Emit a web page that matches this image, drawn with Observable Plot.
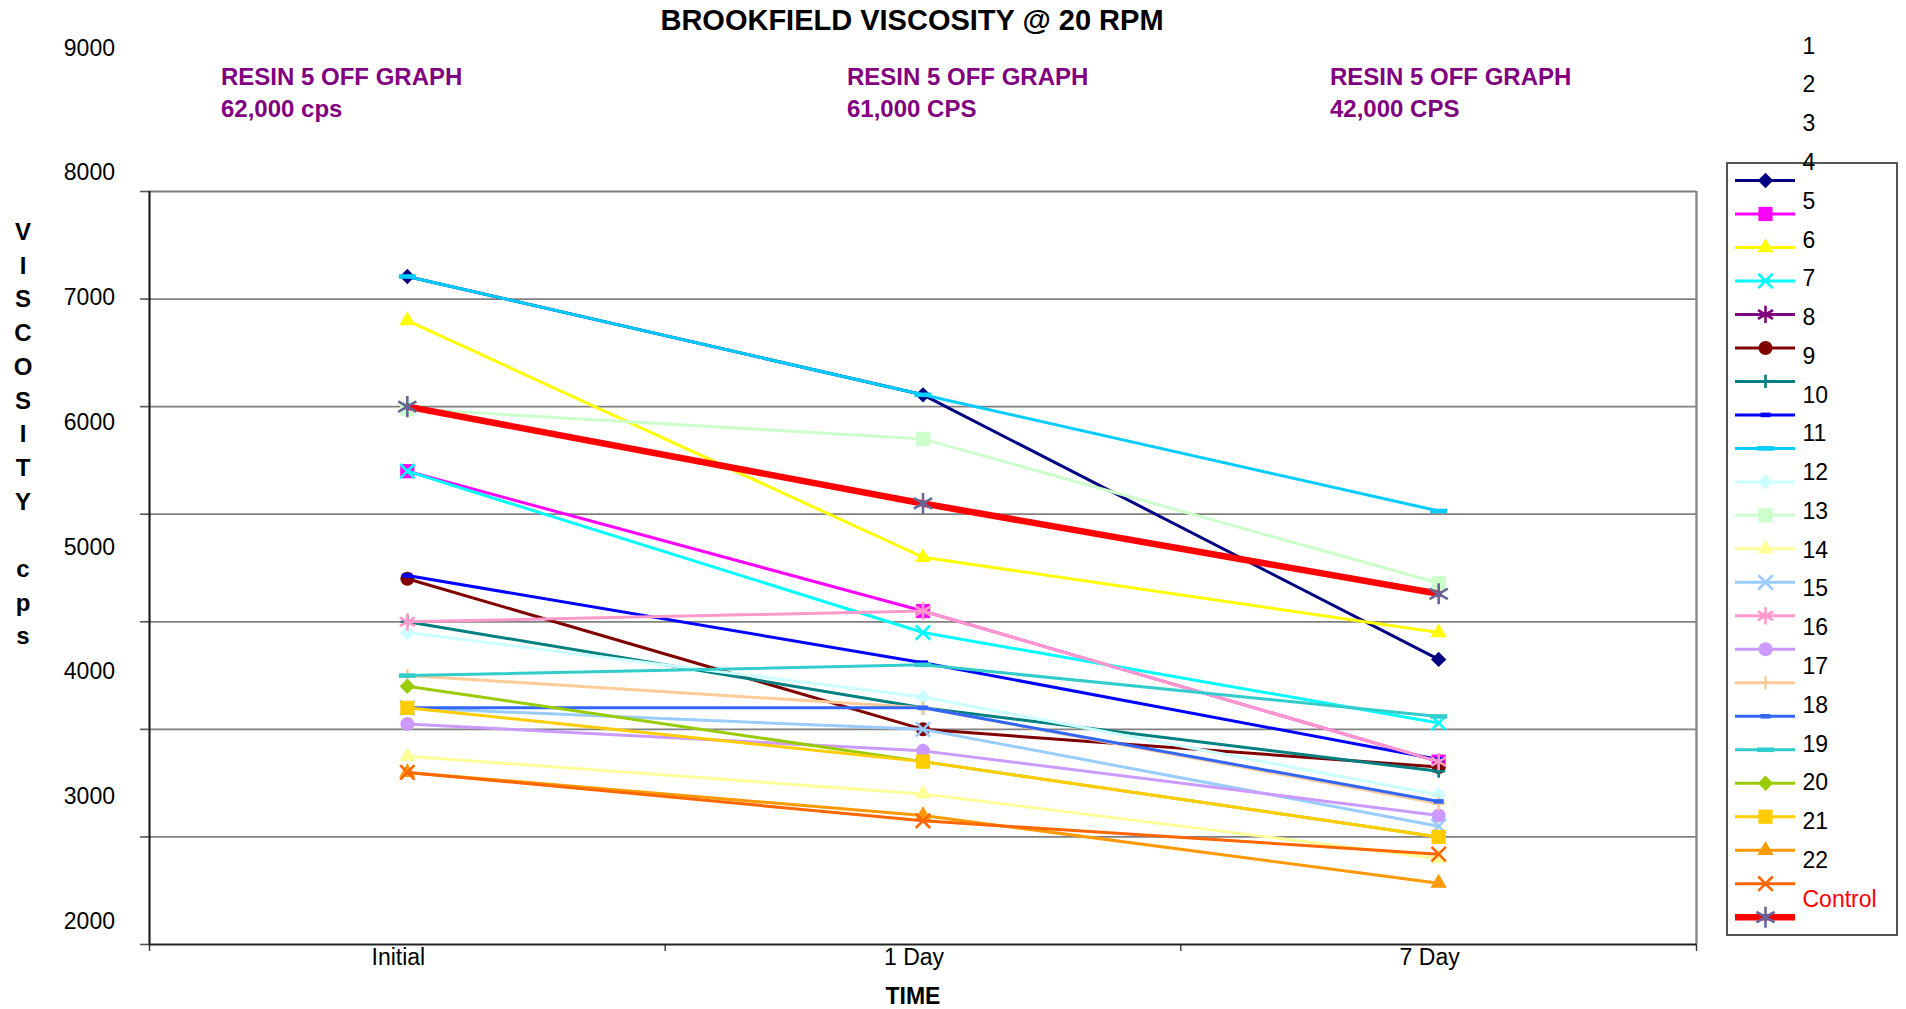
<!DOCTYPE html>
<html>
<head>
<meta charset="utf-8">
<script src="https://cdn.jsdelivr.net/npm/d3@7"></script>
<script src="https://cdn.jsdelivr.net/npm/@observablehq/plot@0.6"></script>
<style>
  body { margin: 0; background: #fff; font-family: "Liberation Sans", Arial, sans-serif; }
  #root { position: relative; width: 1906px; height: 1009px; overflow: hidden; background: #fff; }
  #root > * { position: absolute; }
</style>
</head>
<body>
<div id="root"></div>
<script>
// ---------------- data ----------------
const categories = ["Initial", "1 Day", "7 Day"];
const seriesNames = ["1","2","3","4","5","6","7","8","9","10","11","12","13","14","15","16","17","18","19","20","21","22","Control"];
const seriesColors = ["#000080","#FF00FF","#FFFF00","#00FFFF","#800080","#800000","#008080","#0000FF","#00CCFF","#CCFFFF","#CCFFCC","#FFFF99","#99CCFF","#FF99CC","#CC99FF","#FFCC99","#3366FF","#33CCCC","#99CC00","#FFCC00","#FF9900","#FF6600","#FF0000"];
const markerColors = ["#000080","#FF00FF","#FFFF00","#00FFFF","#800080","#800000","#008080","#0000FF","#00CCFF","#CCFFFF","#CCFFCC","#FFFF99","#99CCFF","#FF99CC","#CC99FF","#FFCC99","#3366FF","#33CCCC","#99CC00","#FFCC00","#FF9900","#FF6600","#666699"];
const seriesMarkers = ["diamond","square","triangle","times","asterisk","circle","plus","shortdash","dash","diamond","square","triangle","times","asterisk","circle","plus","shortdash","dash","diamond","square","triangle","times","bigasterisk"];
const initialValues = [8210, 6400, 7800, 6400, 62000, 5400, 5000, 5430, 8210, 4900, 6980, 3750, 4200, 5000, 4050, 4500, 4200, 4500, 4400, 4200, 3600, 3600, 7000];
const day1Values    = [7110, 5100, 5600, 4900, 61000, 4000, 4200, 4620, 7110, 4300, 6700, 3400, 4000, 5100, 3800, 4200, 4200, 4600, 3700, 3700, 3200, 3150, 6100];
const day7Values    = [4650, 3700, 4900, 4060, 42000, 3650, 3610, 3720, 6030, 3390, 5360, 2800, 3100, 3700, 3200, 3310, 3330, 4120, 3000, 3000, 2570, 2840, 5260];
const yTicks = [2000, 3000, 4000, 5000, 6000, 7000, 8000, 9000];
const title = "BROOKFIELD VISCOSITY @ 20 RPM";
const xTitle = "TIME";
const yTitle = ["V","I","S","C","O","S","I","T","Y","","c","p","s"];
const notes = [["RESIN 5 OFF GRAPH", "62,000 cps"], ["RESIN 5 OFF GRAPH", "61,000 CPS"], ["RESIN 5 OFF GRAPH", "42,000 CPS"]];

// ---------------- helpers ----------------
const FONT = '"Liberation Sans", Arial, sans-serif';
const root = document.getElementById("root");
const valueSets = [initialValues, day1Values, day7Values];
const rows = [];
seriesNames.forEach((name, i) => {
  valueSets.forEach((vals, j) => rows.push({series: name, i, time: categories[j], x: categories.indexOf(categories[j]) + 0.5, value: vals[i]}));
});

const dashLong = {draw(ctx) { ctx.rect(-8.5, -2.3, 17, 4.6); }};
const dashShort = {draw(ctx) { ctx.rect(-5, -2.3, 10, 4.6); }};
const markerDefs = {
  diamond:    {symbol: "diamond2", r: 6.9, filled: true},
  square:     {symbol: "square", r: 8, filled: true},
  triangle:   {symbol: "triangle", r: 6, filled: true},
  circle:     {symbol: "circle", r: 7, filled: true},
  times:      {symbol: "times", r: 6.6, filled: false},
  asterisk:   {symbol: "asterisk", r: 8.2, filled: false},
  bigasterisk:{symbol: "asterisk", r: 10, filled: false},
  plus:       {symbol: "plus", r: 4.3, filled: false},
  dash:       {symbol: dashLong, r: 5, filled: true},
  shortdash:  {symbol: dashShort, r: 5, filled: true}
};
function dotOpts(i, extra) {
  const m = markerDefs[seriesMarkers[i]];
  const c = markerColors[i];
  return Object.assign({symbol: m.symbol, r: m.r},
    m.filled ? {fill: c, stroke: "none"} : {fill: "none", stroke: c, strokeWidth: 2.6}, extra);
}
function lineWidth(i) { return seriesNames[i] === "Control" ? 6.5 : 3; }

// ---------------- main chart ----------------
const W = 1906, H = 1009;
const seriesMarks = [];
seriesNames.forEach((name, i) => {
  const data = rows.filter(r => r.i === i);
  seriesMarks.push(Plot.line(data, {x: "x", y: "value", stroke: seriesColors[i], strokeWidth: lineWidth(i), strokeLinejoin: "round", clip: true}));
  seriesMarks.push(Plot.dot(data, dotOpts(i, {x: "x", y: "value", clip: true})));
});

const main = Plot.plot({
  width: W, height: H,
  marginLeft: 149, marginRight: 210, marginTop: 191, marginBottom: 65,
  style: {fontFamily: FONT, fontSize: "23px", background: "transparent", color: "#000", overflow: "visible"},
  x: {domain: [0, categories.length], axis: null},
  y: {domain: [yTicks[0], yTicks[yTicks.length - 1]], axis: null},
  marks: [
    Plot.ruleY(yTicks.slice(1), {stroke: "#808080", strokeWidth: 1.8}),
    Plot.ruleX([categories.length], {stroke: "#888888", strokeWidth: 2.4}),
    Plot.axisY({ticks: yTicks, tickSize: 9, tickFormat: () => "", stroke: "#555", strokeWidth: 1.6, label: null}),
    Plot.axisX({ticks: d3.range(categories.length + 1), tickSize: 7, tickFormat: () => "", stroke: "#333", strokeWidth: 1.4, label: null}),
    Plot.axisX({ticks: categories.map((c, i) => i + 0.5), tickSize: 0, tickPadding: 4.5, tickFormat: v => categories[Math.floor(v)], dx: -9, fill: "#000", label: null}),
    Plot.ruleX([0], {stroke: "#222", strokeWidth: 2.2}),
    Plot.ruleY([yTicks[0]], {stroke: "#222", strokeWidth: 2.2}),
    ...seriesMarks
  ]
});
main.style.left = "0px"; main.style.top = "0px";
root.appendChild(main);

// ---------------- y tick labels (drawn on their own scale) ----------------
const yLabels = Plot.plot({
  width: 130, height: H, marginLeft: 116, marginRight: 14, marginTop: 0, marginBottom: 0,
  style: {fontFamily: FONT, fontSize: "23px", background: "transparent", overflow: "visible"},
  x: {axis: null, domain: [0, 1]},
  y: {domain: [yTicks[0], yTicks[yTicks.length - 1]], range: [921, 47.7], axis: null},
  marks: [Plot.axisY({ticks: yTicks, tickSize: 0, tickPadding: 1.5, tickFormat: d => String(d), fill: "#000", label: null})]
});
yLabels.style.left = "0px"; yLabels.style.top = "0px";
root.appendChild(yLabels);

// ---------------- text blocks ----------------
function textBlock(str, {x, y, size, bold = false, color = "#000", align = "left", width = 0}) {
  const d = document.createElement("div");
  d.textContent = str;
  d.style.cssText = `font-family:${FONT};font-size:${size}px;line-height:${size}px;font-weight:${bold ? "bold" : "normal"};color:${color};white-space:nowrap;`;
  d.style.top = (y - 0.4885 * size) + "px";
  if (align === "center") { d.style.left = (x - width / 2) + "px"; d.style.width = width + "px"; d.style.textAlign = "center"; }
  else d.style.left = x + "px";
  root.appendChild(d);
  return d;
}
textBlock(title, {x: 912, y: 20.5, size: 29, bold: true, align: "center", width: 800});
textBlock(xTitle, {x: 913, y: 996.5, size: 23, bold: true, align: "center", width: 200});
const noteX = [221, 847, 1330];
notes.forEach((n, k) => {
  textBlock(n[0], {x: noteX[k], y: 77, size: 24, bold: true, color: "#800080"});
  textBlock(n[1], {x: noteX[k], y: 109, size: 24, bold: true, color: "#800080"});
});
const yt = document.createElement("div");
yt.style.cssText = `left:0px;top:215px;width:46px;text-align:center;font-family:${FONT};font-size:24px;font-weight:bold;line-height:33.7px;`;
yt.innerHTML = yTitle.map(c => c === "" ? "&nbsp;" : c).join("<br>");
root.appendChild(yt);

// ---------------- legend ----------------
const box = document.createElement("div");
box.style.cssText = "left:1726px;top:162px;width:172px;height:774px;border:2px solid #555;box-sizing:border-box;background:transparent;";
root.appendChild(box);

const legendMarks = [];
seriesNames.forEach((name, i) => {
  legendMarks.push(Plot.ruleY([name], {y: d => d, x1: 0, x2: 1, stroke: seriesColors[i], strokeWidth: lineWidth(i)}));
  legendMarks.push(Plot.dot([name], dotOpts(i, {y: d => d, x: 0.5})));
});
const legendSym = Plot.plot({
  width: 60, height: H, margin: 0,
  style: {background: "transparent", overflow: "visible"},
  x: {domain: [0, 1], axis: null},
  y: {type: "point", domain: seriesNames, range: [180, 916.7], padding: 0, round: false, axis: null},
  marks: legendMarks
});
legendSym.style.left = "1735px"; legendSym.style.top = "0px";
root.appendChild(legendSym);

const legendText = Plot.plot({
  width: 100, height: H, margin: 0,
  style: {fontFamily: FONT, fontSize: "23px", background: "transparent", overflow: "visible"},
  x: {domain: [0, 1], axis: null},
  y: {type: "point", domain: seriesNames, range: [45.8, 898.7], padding: 0, round: false, axis: null},
  color: {type: "identity"},
  marks: [Plot.text(seriesNames, {y: d => d, x: 0, text: d => d, textAnchor: "start", fill: d => d === "Control" ? "#FF0000" : "#000000"})]
});
legendText.style.left = "1802px"; legendText.style.top = "0px";
root.appendChild(legendText);
</script>
</body>
</html>
